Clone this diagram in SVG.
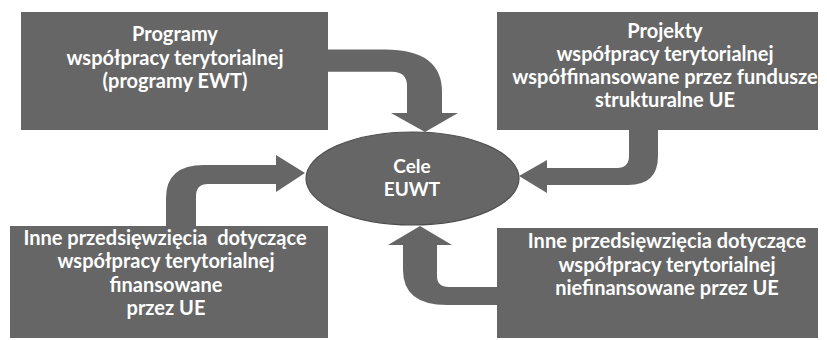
<svg xmlns="http://www.w3.org/2000/svg" width="827" height="340" viewBox="0 0 827 340">
<style>
.box{fill:#666666}
.arr{fill:#666666}
.ell{fill:#666666;stroke:#4f4f4f;stroke-width:1.2}
text{font-family:Lato,"Liberation Sans",sans-serif;font-weight:700;fill:#ffffff;text-anchor:middle}
.t{font-size:20px}
.c{font-size:19px}
</style>
<rect width="827" height="340" fill="#ffffff"/>
<g id="connectors">
<path class="arr" d="M320,49.5 H385 Q442,49.5 442,92 V113 H458 L425,132 L391,113 H407 V86 Q407,71.7 392,71.7 H320 Z"/>
<path class="arr" d="M629,125 H658 V156 Q658,185 628,185 H547 V193 L519,176 L547,160 V168 H617 Q629,168 629,156 Z"/>
<path class="arr" d="M166,232 V198 Q166,165 204,165 H276 V155 L305,173 L276,192 V184 H208 Q196,184 196,196 V232 Z"/>
<path class="arr" d="M420,226 L452,245 H437 V276 Q437,287 449,287 H505 V305 H447 Q403,305 403,270 V245 H388 Z"/>
</g>
<g id="n-programy">
<rect class="box" x="21" y="12" width="307" height="118"/>
<text class="t" x="175" y="41">Programy</text>
<text class="t" x="175" y="65">współpracy terytorialnej</text>
<text class="t" x="175" y="88">(programy EWT)</text>
</g>
<g id="n-projekty">
<rect class="box" x="497" y="12" width="321" height="118"/>
<text class="t" x="665" y="38">Projekty</text>
<text class="t" x="665" y="61">współpracy terytorialnej</text>
<text class="t" x="665" y="84">współfinansowane przez fundusze</text>
<text class="t" x="665" y="107">strukturalne UE</text>
</g>
<g id="n-inne-fin">
<rect class="box" x="10" y="226" width="318" height="112"/>
<text class="t" x="165" y="245" xml:space="preserve">Inne przedsięwzięcia  dotyczące</text>
<text class="t" x="166" y="268">współpracy terytorialnej</text>
<text class="t" x="166" y="292">finansowane</text>
<text class="t" x="166" y="315">przez UE</text>
</g>
<g id="n-inne-niefin">
<rect class="box" x="497" y="228" width="321" height="110"/>
<text class="t" x="667" y="248">Inne przedsięwzięcia dotyczące</text>
<text class="t" x="667" y="272">współpracy terytorialnej</text>
<text class="t" x="667" y="295">niefinansowane przez UE</text>
</g>
<g id="n-cele">
<ellipse class="ell" cx="412.5" cy="178.5" rx="106.5" ry="46.5"/>
<text class="c" x="412" y="173">Cele</text>
<text class="c" x="412" y="196">EUWT</text>
</g>
</svg>
